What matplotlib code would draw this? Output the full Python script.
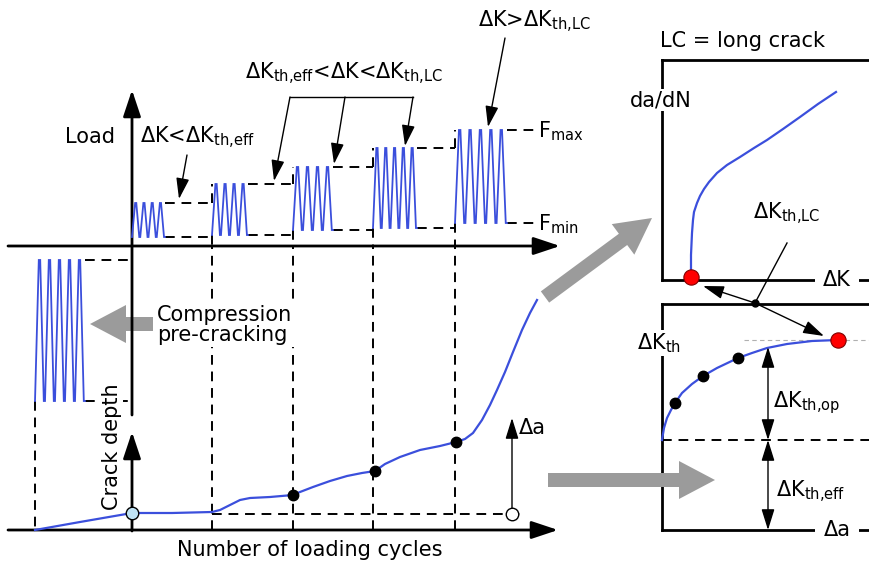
import matplotlib.pyplot as plt
from matplotlib.patches import FancyArrow

plt.rcParams['font.family'] = ['DejaVu Sans']
plt.rcParams['mathtext.default'] = 'regular'

BLUE = '#3b4fdc'
GRAY = '#9b9b9b'
FS = 15

# load blocks: cycles counted from the load axis, load 0 on the cycle axis
block_start = [0, 80, 161, 241, 323]
block_wave_len = [33, 36, 40, 44, 52]
block_cycles = [4, 4, 4, 5, 5]
f_max = [42, 61, 78, 97, 115]
f_min = [8, 10, 15, 17, 22]
level_end = 405

# compression pre-cracking block
pre_start, pre_len, pre_cycles = -97, 50, 5
pre_max, pre_min = -15, -156

# crack depth vs number of cycles
crack_n = [-97, -52, 0, 40, 80, 88, 98, 108, 118, 138, 161, 168, 181, 198, 215, 230,
           243, 253, 268, 288, 308, 324, 333, 341, 350, 358, 365, 373, 381, 390, 398, 405]
crack_a = [0, 8, 17, 17, 18, 20, 25, 30, 32, 33, 35, 38, 43, 49, 54, 57,
           59, 66, 73, 80, 84, 88, 91, 97, 110, 125, 140, 158, 178, 200, 217, 230]
dot_n = [161, 243, 324]
dot_a = [35, 59, 88]
pre_a = 17
da_n = 380
da_top = 112

# long crack da/dN curve
dk = [29, 29, 30, 31, 32, 35, 38, 42, 47, 55, 65, 78, 92, 105, 121, 138, 156, 174]
dadn = [3, 25, 47, 60, 68, 77, 84, 91, 98, 107, 115, 123, 132, 140, 151, 163, 176, 188]

# threshold vs crack extension (R-curve)
r_da = [0, 2, 5, 9, 13, 20, 30, 41, 55, 76, 90, 105, 125, 150, 176]
r_k = [90, 102, 112, 120, 127, 137, 146, 154, 162, 172, 177, 182, 186, 189, 190]
r_dots = [4, 7, 9]
k_eff = 90


def wave(n0, length, cycles, lo, hi):
    p = length / cycles
    xs, ys = [n0], [lo]
    for k in range(cycles):
        t = n0 + k * p
        xs += [t + 0.38 * p, t + 0.52 * p, t + 0.88 * p, t + p]
        ys += [hi, hi, lo, lo]
    return xs, ys


fig = plt.figure(figsize=(8.7, 5.63), dpi=100)


def layer(xlim, ylim, z):
    a = fig.add_axes([0, 0, 1, 1])
    a.set_xlim(*xlim)
    a.set_ylim(*ylim)
    a.axis('off')
    a.patch.set_alpha(0)
    a.set_zorder(z)
    return a


ax = layer((0, 870), (563, 0), 1)          # frame, pixel units
ax_load = layer((-132, 738), (-318, 245), 2)
ax_crack = layer((-132, 738), (-33, 530), 2)
ax_lc = layer((-662, 208), (-283, 280), 2)
ax_r = layer((-662, 208), (-33, 530), 2)
ax_t = layer((0, 870), (563, 0), 3)        # labels on top

dash = dict(color='black', lw=1.4, ls=(0, (5, 3.5)))
solid = dict(color='black', lw=2)
wv = dict(color=BLUE, lw=1.3, zorder=3, solid_joinstyle='miter')
ar_axis = dict(arrowstyle='-|>,head_length=0.9,head_width=0.3', color='black', lw=2,
               mutation_scale=18, shrinkA=0, shrinkB=0)
ar_thin = dict(arrowstyle='-|>,head_length=0.8,head_width=0.25', color='black', lw=1,
               mutation_scale=16, shrinkA=0, shrinkB=0)

# axes of the left diagram
ax.annotate('', xy=(132, 90), xytext=(132, 415), arrowprops=ar_axis)
ax.annotate('', xy=(560, 246), xytext=(8, 246), arrowprops=ar_axis)
ax.annotate('', xy=(132, 432), xytext=(132, 531), arrowprops=ar_axis)
ax.annotate('', xy=(558, 530), xytext=(8, 530), arrowprops=ar_axis)

# load blocks
for i in range(len(block_start)):
    xs, ys = wave(block_start[i], block_wave_len[i], block_cycles[i], f_min[i], f_max[i])
    ax_load.plot(xs, ys, **wv)
    nxt = block_start[i + 1] if i + 1 < len(block_start) else level_end
    x0 = block_start[i] + block_wave_len[i]
    ax_load.plot([x0, nxt], [f_max[i], f_max[i]], **dash)
    ax_load.plot([x0, nxt], [f_min[i], f_min[i]], **dash)
    if i + 1 < len(block_start):
        ax_load.plot([nxt, nxt], [f_max[i], f_max[i + 1]], **dash)
        ax_load.plot([nxt, nxt], [f_min[i + 1], 0], **dash)
        ax_crack.plot([nxt, nxt], [0, 284], **dash)

xs, ys = wave(pre_start, pre_len, pre_cycles, pre_min, pre_max)
ax_load.plot(xs, ys, **wv)
ax_load.plot([pre_start + pre_len, 0], [pre_max, pre_max], **dash)
ax_load.plot([pre_start + pre_len, 0], [pre_min, pre_min], **dash)
ax_load.plot([pre_start, pre_start], [pre_min, -285], **dash)

# crack depth curve
ax_crack.plot([block_start[1], da_n + 12], [pre_a - 1, pre_a - 1], **dash)
ax_crack.plot(crack_n, crack_a, color=BLUE, lw=1.6, zorder=3)
ax_crack.plot(dot_n, dot_a, 'o', color='black', ms=7.5, zorder=4)
ax_crack.plot([0], [pre_a], 'o', mfc='#bfe3f5', mec='black', mew=1, ms=9, zorder=4)
ax_crack.annotate('', xy=(da_n, da_top), xytext=(da_n, pre_a - 1), arrowprops=ar_thin)
ax_crack.plot([da_n], [pre_a - 1], 'o', mfc='white', mec='black', mew=1, ms=9, zorder=4)

# right panels frames
ax.plot([662, 870], [60, 60], **solid)
ax.plot([662, 662], [60, 280], **solid)
ax.plot([662, 870], [280, 280], **solid)
ax.plot([662, 870], [304, 304], **solid)
ax.plot([662, 662], [304, 530], **solid)
ax.plot([662, 870], [530, 530], **solid)

ax_lc.plot(dk, dadn, color=BLUE, lw=1.6, zorder=3)
ax_lc.plot([dk[0]], [dadn[0]], 'o', color='red', mec='#800000', mew=0.8, ms=11, zorder=4)

ax_r.plot([82, 208], [r_k[-1], r_k[-1]], color='#b0b0b0', lw=0.8, ls=(0, (4, 3)))
ax_r.plot([0, 208], [k_eff, k_eff], **dash)
ax_r.plot(r_da, r_k, color=BLUE, lw=1.6, zorder=3)
ax_r.plot([r_da[i] for i in r_dots], [r_k[i] for i in r_dots], 'o', color='black', ms=7.5, zorder=4)
ax_r.plot([r_da[-1]], [r_k[-1]], 'o', color='red', mec='#800000', mew=0.8, ms=11, zorder=4)
ar_dbl = dict(arrowstyle='<|-|>,head_length=0.8,head_width=0.25', color='black', lw=1,
              mutation_scale=16, shrinkA=0, shrinkB=0)
ax_r.annotate('', xy=(106, 183), xytext=(106, k_eff), arrowprops=ar_dbl)
ax_r.annotate('', xy=(106, k_eff), xytext=(106, 0), arrowprops=ar_dbl)

# gray arrows
for x, y, dx, dy in [(153, 324, -63, 0), (545, 297, 107, -79), (548, 480, 167, 0)]:
    ax.add_patch(FancyArrow(x, y, dx, dy, width=14, head_width=38, head_length=36,
                            length_includes_head=True, color=GRAY, lw=0, zorder=2))

# pointers
ax.annotate('', xy=(179, 199), xytext=(187, 155), arrowprops=ar_thin)
ax.plot([290, 413], [97, 97], color='black', lw=1)
for x0, tip in [(290, (274, 181)), (345, (334, 164)), (413, (405, 146))]:
    ax.annotate('', xy=tip, xytext=(x0, 97), arrowprops=ar_thin)
ax.annotate('', xy=(488, 127), xytext=(505, 38), arrowprops=ar_thin)
ax.plot([787, 755], [243, 303], color='black', lw=1)
ax.annotate('', xy=(703, 286), xytext=(755, 303), arrowprops=ar_thin)
ax.annotate('', xy=(824, 336), xytext=(755, 303), arrowprops=ar_thin)
ax.plot([755], [303], 'o', color='black', ms=5)

# labels
wb = dict(facecolor='white', edgecolor='none', pad=1)
t = dict(fontsize=FS, color='black')
ax_t.text(90, 137, 'Load', ha='center', va='center', **t)
ax_t.text(140, 143, 'ΔK<ΔK$_{\\mathrm{th{,}eff}}$', va='baseline', **t)
ax_t.text(245, 79, 'ΔK$_{\\mathrm{th{,}eff}}$<ΔK<ΔK$_{\\mathrm{th{,}LC}}$', va='baseline', **t)
ax_t.text(478, 27, 'ΔK>ΔK$_{\\mathrm{th{,}LC}}$', va='baseline', **t)
ax_t.text(538, 137, 'F$_{\\mathrm{max}}$', va='baseline', **t)
ax_t.text(538, 230, 'F$_{\\mathrm{min}}$', va='baseline', **t)
ax_t.text(157, 325, 'Compression\npre-cracking', va='center', linespacing=1.05, bbox=wb, **t)
ax_t.text(112, 447, 'Crack depth', rotation=90, ha='center', va='center', bbox=wb, **t)
ax_t.text(310, 550, 'Number of loading cycles', ha='center', va='center', **t)
ax_t.text(519, 428, 'Δa', va='center', **t)
ax_t.text(660, 47, 'LC = long crack', va='baseline', **t)
ax_t.text(630, 106, 'da/dN', va='baseline', bbox=wb, **t)
ax_t.text(753, 219, 'ΔK$_{\\mathrm{th{,}LC}}$', va='baseline', **t)
ax_t.text(837, 280, 'ΔK', ha='center', va='center', bbox=dict(facecolor='white', edgecolor='none', pad=6), **t)
ax_t.text(637, 349, 'ΔK$_{\\mathrm{th}}$', va='baseline', bbox=wb, **t)
ax_t.text(773, 407, 'ΔK$_{\\mathrm{th{,}op}}$', va='baseline', **t)
ax_t.text(776, 497, 'ΔK$_{\\mathrm{th{,}eff}}$', va='baseline', **t)
ax_t.text(837, 530, 'Δa', ha='center', va='center', bbox=dict(facecolor='white', edgecolor='none', pad=6), **t)

fig.savefig('out.png', dpi=100)
